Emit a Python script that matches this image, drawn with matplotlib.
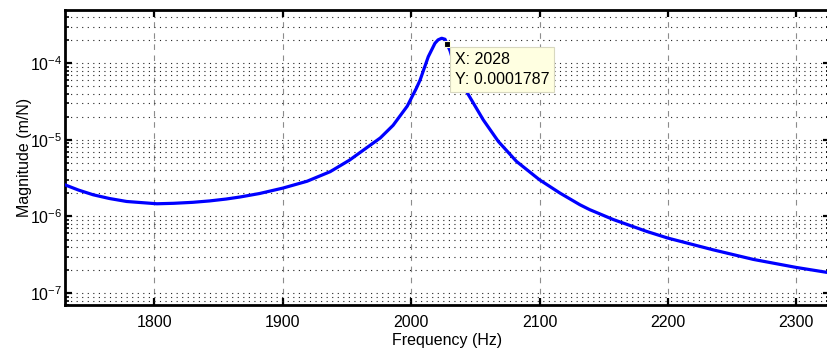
import matplotlib
matplotlib.use("Agg")
import matplotlib.pyplot as plt
import numpy as np
from matplotlib.ticker import LogLocator, NullFormatter

plt.rcParams['font.family'] = ['Liberation Sans', 'DejaVu Sans']
plt.rcParams['mathtext.default'] = 'regular'

# Data
freq_hz = [1730.5, 1741, 1752.5, 1765, 1778.5, 1802, 1815, 1830, 1843, 1856, 1867,
           1882, 1900, 1919, 1937, 1952, 1965, 1976, 1986, 1997, 2004, 2007,
           2013.4, 2018.6, 2021, 2023.8, 2026.4, 2028, 2030.3, 2035, 2040, 2046,
           2056.2, 2068, 2082, 2100, 2116, 2131.5, 2139, 2157.5, 2183.5, 2200,
           2235, 2266.5, 2300, 2326]
magnitude = [2.588e-6, 2.213e-6, 1.919e-6, 1.718e-6, 1.570e-6, 1.466e-6, 1.486e-6,
             1.531e-6, 1.596e-6, 1.690e-6, 1.799e-6, 1.995e-6, 2.344e-6, 2.884e-6,
             3.846e-6, 5.433e-6, 7.798e-6, 1.059e-5, 1.549e-5, 2.754e-5, 4.677e-5,
             6.026e-5, 1.219e-4, 1.824e-4, 2.018e-4, 2.118e-4, 2.056e-4, 1.787e-4,
             1.459e-4, 7.943e-5, 5.248e-5, 3.548e-5, 1.824e-5, 9.506e-6, 5.248e-6,
             3.013e-6, 2.018e-6, 1.422e-6, 1.230e-6, 9.12e-7, 6.383e-7, 5.224e-7,
             3.681e-7, 2.754e-7, 2.163e-7, 1.841e-7]
tip_x = 2028
tip_y = 0.0001787
xticks = [1800, 1900, 2000, 2100, 2200, 2300]

W, H = 827, 349
fig = plt.figure(figsize=(W / 100, H / 100), dpi=100)
ax = fig.add_axes([65 / W, (H - 305) / H, (830 - 65) / W, (305 - 10) / H])

ax.semilogy(freq_hz, magnitude, color='#0000ff', lw=2.3, zorder=3,
            solid_joinstyle='round', solid_capstyle='round')
ax.set_xlim(1730.5, 2326.2)
ax.set_ylim(7.0e-8, 4.95e-4)

ax.set_xticks(xticks)
ax.set_xticklabels([str(t) for t in xticks])
ax.yaxis.set_major_locator(LogLocator(base=10, numticks=10))
ax.yaxis.set_minor_locator(LogLocator(base=10, subs=np.arange(2, 10), numticks=20))
ax.yaxis.set_minor_formatter(NullFormatter())

ax.tick_params(axis='both', which='major', direction='in', length=5, width=1.6,
               labelsize=11.5, top=True, right=True, colors='black')
ax.tick_params(axis='x', which='major', pad=7)
ax.tick_params(axis='y', which='major', pad=2)
ax.tick_params(axis='y', which='minor', direction='in', length=3, width=1.2, right=True)

# grid
ax.grid(True, axis='x', which='major', color='#8c8c8c', lw=0.8, ls=(0, (5, 5)))
ax.grid(True, axis='y', which='major', color='#222222', lw=0.8, ls=(0, (1, 4)))
ax.grid(True, axis='y', which='minor', color='#222222', lw=0.8, ls=(0, (1, 4)))
ax.set_axisbelow(True)

for s in ax.spines.values():
    s.set_linewidth(2.0)

ax.set_xlabel('Frequency (Hz)', fontsize=11.5, labelpad=2)
ax.set_ylabel('Magnitude (m/N)', fontsize=11.5)
ax.yaxis.set_label_coords(-0.043, 0.5)

# data tip
ax.plot([tip_x], [tip_y], marker='s', ms=4.5, color='black', mec='#ffffe0', mew=0.8, zorder=5)
ax.annotate('X: %d\nY: %.7f' % (tip_x, tip_y), xy=(tip_x, tip_y), xytext=(5.4, -6),
            textcoords='offset points', ha='left', va='top', fontsize=11.5,
            linespacing=1.4, zorder=6,
            bbox=dict(boxstyle='square,pad=0.3', fc='#ffffe1', ec='#d8d8c0', lw=0.8))

fig.savefig('out.png', dpi=100)
